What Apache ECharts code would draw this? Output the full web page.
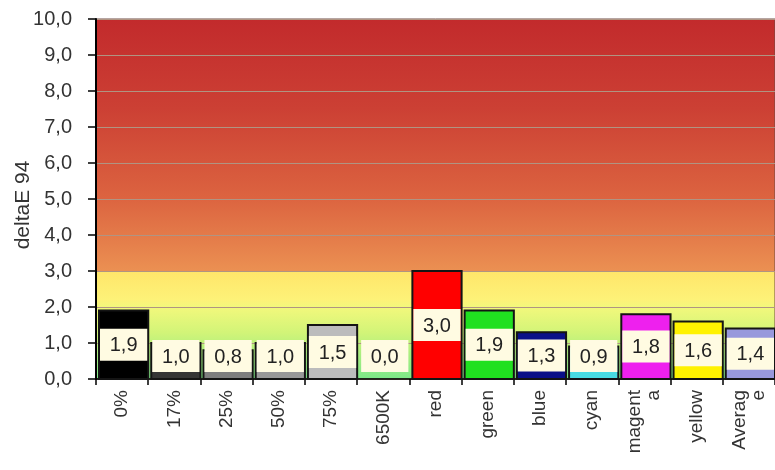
<!DOCTYPE html>
<html>
<head>
<meta charset="utf-8">
<script src="https://cdn.jsdelivr.net/npm/echarts@6/dist/echarts.min.js"></script>
<style>
  html, body { margin: 0; padding: 0; background: #ffffff; }
  #chart { width: 775px; height: 470px; }
</style>
</head>
<body>
<div id="chart"></div>
<script>
// Patch names as shown under the axis (long names wrap onto a second line)
var categories = ['0%', '17%', '25%', '50%', '75%', '6500K', 'red', 'green', 'blue', 'cyan', 'magent\na', 'yellow', 'Averag\ne'];
// deltaE 94 per patch
var deltaE = [1.9, 1.0, 0.8, 1.0, 1.5, 0.0, 3.0, 1.9, 1.3, 0.9, 1.8, 1.6, 1.4];
// Fill colour of each patch bar
var barColors = ['#000000', '#353535', '#7e7e7e', '#989898', '#bcbcbc', '#8fee8f', '#ff0000', '#20e020', '#0a1088', '#48dce2', '#ee20ee', '#fff200', '#9898dc'];
// Value axis ticks
var yTicks = { min: 0, max: 10, interval: 1 };

var FONT = "'Liberation Sans', Arial, sans-serif";

function fmt(v) { return v.toFixed(1).replace('.', ','); }

var chart = echarts.init(document.getElementById('chart'), null, { renderer: 'canvas' });

// Plot background: red-to-orange above 3, yellow fading to green below
var background = new echarts.graphic.LinearGradient(0, 0, 0, 1, [
  { offset: 0.00, color: '#c22a2c' },
  { offset: 0.25, color: '#cc4034' },
  { offset: 0.50, color: '#dc6440' },
  { offset: 0.699, color: '#eb9052' },
  { offset: 0.70, color: '#ffe66a' },
  { offset: 0.78, color: '#fdf278' },
  { offset: 0.80, color: '#f2f87c' },
  { offset: 0.87, color: '#d2f478' },
  { offset: 1.00, color: '#7ce888' }
]);

chart.setOption({
  animation: false,
  grid: {
    left: 96, top: 19, width: 684, height: 360,
    show: true,
    backgroundColor: background,
    borderColor: '#6e4a44',
    borderWidth: 1
  },
  xAxis: {
    type: 'category',
    data: categories,
    axisLine: { lineStyle: { color: '#000000', width: 1.5 } },
    axisTick: { show: true, length: 6, lineStyle: { color: '#000000', width: 1.5 } },
    axisLabel: {
      rotate: 90, margin: 11, interval: 0,
      fontFamily: FONT, fontSize: 19, lineHeight: 19, color: '#333333'
    },
    splitLine: { show: false }
  },
  yAxis: {
    type: 'value',
    min: yTicks.min, max: yTicks.max, interval: yTicks.interval,
    name: 'deltaE 94',
    nameLocation: 'middle',
    nameGap: 62,
    nameMoveOverlap: false,
    nameTextStyle: { fontFamily: FONT, fontSize: 21, color: '#333333', padding: [0, 12, 0, 0] },
    axisLine: { show: true, lineStyle: { color: '#000000', width: 2 } },
    axisTick: { show: true, length: 8, lineStyle: { color: '#000000', width: 1.5 } },
    axisLabel: {
      margin: 24, fontFamily: FONT, fontSize: 20, color: '#333333',
      formatter: function (v) { return fmt(v); }
    },
    splitLine: { show: true, lineStyle: { color: '#b09482', width: 1.2 } }
  },
  series: [{
    type: 'custom',
    data: deltaE.map(function (v, i) { return [i, v]; }),
    renderItem: function (params, api) {
      var i = api.value(0), v = api.value(1);
      var base = api.coord([i, 0]);
      var top = api.coord([i, v]);
      var w = api.size([1, 0])[0];
      var x0 = base[0] - w / 2 + 3;
      var x1 = base[0] + w / 2;
      var boxH = 32;
      var cy = Math.min((top[1] + base[1]) / 2, base[1] - 7 - boxH / 2);
      var children = [];
      if (v > 0) {
        children.push({
          type: 'rect',
          shape: { x: x0, y: top[1], width: x1 - x0, height: base[1] - top[1] },
          style: { fill: barColors[i], stroke: '#141414', lineWidth: 2 }
        });
      }
      children.push({
        type: 'rect',
        shape: { x: x0 + 1, y: cy - boxH / 2, width: x1 - x0 - 2, height: boxH },
        style: { fill: '#fffbe2' }
      });
      children.push({
        type: 'text',
        style: {
          x: (x0 + x1) / 2, y: cy + 1,
          text: fmt(v),
          align: 'center', verticalAlign: 'middle',
          font: '20px ' + FONT,
          fill: '#222222'
        }
      });
      return { type: 'group', children: children };
    }
  }]
});
</script>
</body>
</html>
